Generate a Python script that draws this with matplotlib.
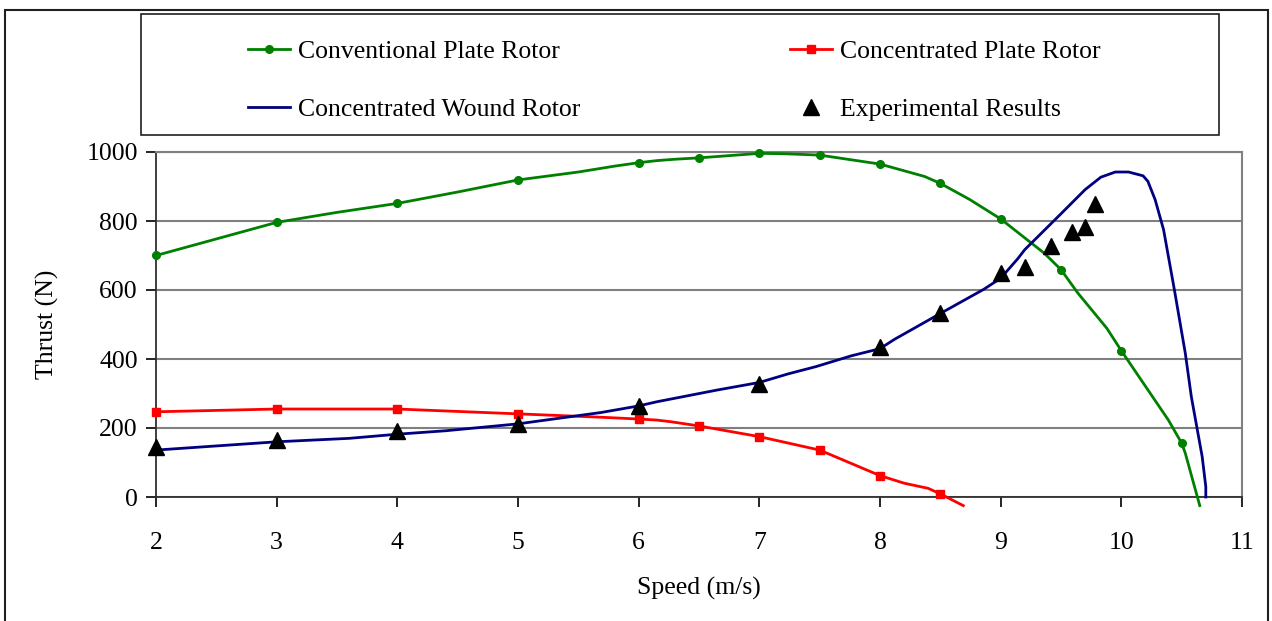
import matplotlib
matplotlib.use('Agg')
import matplotlib.pyplot as plt
from matplotlib.patches import Rectangle

plt.rcParams['font.family'] = ['Liberation Serif', 'DejaVu Serif']

# Conventional Plate Rotor (markers only on the tabulated points)
conv_x = [2.0, 2.5, 3.0, 3.5, 4.0, 4.5, 5.0, 5.5, 5.8, 6.0, 6.15, 6.3, 6.5, 7.0, 7.2,
          7.5, 8.0, 8.37, 8.5, 8.74, 9.0, 9.36, 9.5, 9.64, 9.88, 10.0, 10.39, 10.5,
          10.53, 10.65]
conv_y = [700, 748, 796, 825, 851, 884, 919, 942, 959, 969, 975, 979, 983, 996, 995,
          991, 965, 929, 909, 863, 806, 707, 659, 591, 489, 424, 223, 156,
          127, -25]
conv_marked = [0, 2, 4, 6, 9, 12, 13, 15, 16, 18, 20, 22, 25, 27]

# Concentrated Plate Rotor
plate_x = [2.0, 3.0, 4.0, 5.0, 5.7, 6.0, 6.15, 6.27, 6.5, 7.0, 7.5, 8.0, 8.2, 8.4,
           8.5, 8.69]
plate_y = [247, 255, 255, 241, 231, 226, 223, 218, 206, 175, 136, 62, 40, 25,
           9, -25]
plate_marked = [0, 1, 2, 3, 5, 8, 9, 10, 11, 14]

# Concentrated Wound Rotor
wound_x = [2.0, 3.0, 3.6, 4.0, 4.4, 5.0, 5.69, 6.0, 6.15, 6.65, 7.0, 7.24, 7.47,
           7.76, 8.0, 8.12, 8.48, 8.86, 9.0, 9.14, 9.2, 9.5, 9.7, 9.83, 9.95, 10.06,
           10.18, 10.22, 10.28, 10.35, 10.44, 10.53, 10.58, 10.61, 10.67, 10.70, 10.70]
wound_y = [136, 160, 170, 182, 192, 212, 245, 264, 276, 310, 332, 357, 378,
           409, 430, 457, 528, 602, 634, 690, 717, 821, 891, 927, 942, 942,
           931, 915, 862, 775, 600, 417, 291, 233, 117, 30, 0]

# Experimental Results
exp_x = [2, 3, 4, 5, 6, 7, 8, 8.5, 9, 9.2, 9.42, 9.59, 9.7, 9.78]
exp_y = [145, 164, 191, 213, 265, 327, 435, 532, 650, 668, 727, 768, 782, 848]

x_ticks = [2, 3, 4, 5, 6, 7, 8, 9, 10, 11]
y_ticks = [0, 200, 400, 600, 800, 1000]

W, H = 1272, 621
fs = 18.5
fig = plt.figure(figsize=(W / 100, H / 100), dpi=100)
ax = fig.add_axes([156 / W, 1 - 497 / H, (1242 - 156) / W, (497 - 152) / H])

green = '#008000'
red = '#FF0000'
navy = '#000080'

l1, = ax.plot(conv_x, conv_y, color=green, lw=2, marker='o', ms=5.5,
              markevery=conv_marked, clip_on=False, zorder=3,
              label='Conventional Plate Rotor')
l2, = ax.plot(plate_x, plate_y, color=red, lw=2, marker='s', ms=5.5,
              markevery=plate_marked, clip_on=False, zorder=3,
              label='Concentrated Plate Rotor')
l3, = ax.plot(wound_x, wound_y, color=navy, lw=2, clip_on=False, zorder=3,
              label='Concentrated Wound Rotor')
l4, = ax.plot(exp_x, exp_y, ls='none', marker='^', ms=11, color='black',
              clip_on=False, zorder=4, label='Experimental Results')

ax.set_xlim(2, 11)
ax.set_ylim(0, 1000)
ax.set_xticks(x_ticks)
ax.set_yticks(y_ticks)
ax.tick_params(axis='both', direction='out', length=7, width=1.2,
               labelsize=fs, colors='black')
ax.tick_params(axis='x', pad=18)
ax.tick_params(axis='y', pad=6)
ax.yaxis.grid(True, color='#808080', lw=1.5)
ax.set_axisbelow(True)

for side in ['top', 'right']:
    ax.spines[side].set_color('#808080')
    ax.spines[side].set_linewidth(1.5)
for side in ['left', 'bottom']:
    ax.spines[side].set_color('#303030')
    ax.spines[side].set_linewidth(1.3)

ax.set_xlabel('Speed (m/s)', fontsize=fs, labelpad=17)
ax.set_ylabel('Thrust (N)', fontsize=fs, labelpad=20)

# legend box and two legend columns
fig.patches.append(Rectangle((141 / W, 1 - 135 / H), (1219 - 141) / W, 121 / H,
                             transform=fig.transFigure, fill=False,
                             edgecolor='#202020', lw=1.2))
leg_kw = dict(frameon=False, fontsize=fs, handlelength=1.65, handletextpad=0.3,
              labelspacing=1.35, borderpad=0, borderaxespad=0, loc='upper left')
fig.legend(handles=[l1, l3], bbox_to_anchor=(248 / W, 1 - 40 / H), **leg_kw)
fig.legend(handles=[l2, l4], bbox_to_anchor=(790 / W, 1 - 40 / H), **leg_kw)

# outer border
fig.patches.append(Rectangle((5 / W, -0.01), (1268 - 5) / W, 1 - 10 / H + 0.01,
                             transform=fig.transFigure, fill=False,
                             edgecolor='#202020', lw=1.5))

fig.savefig('out.png', dpi=100)
